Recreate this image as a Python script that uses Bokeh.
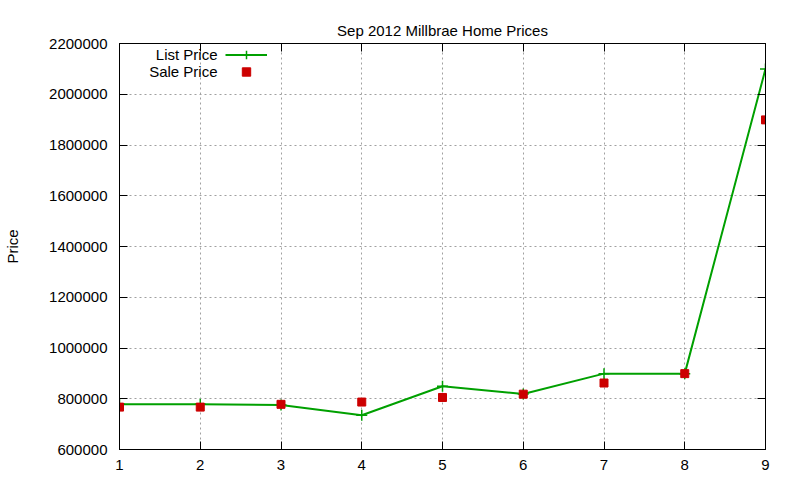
from bokeh.plotting import figure
from bokeh.models import (Range1d, FixedTicker, BasicTickFormatter, LinearAxis,
                          Legend, LegendItem, Label)
from bokeh.embed import file_html
from bokeh.resources import INLINE

# data
homes = [1, 2, 3, 4, 5, 6, 7, 8, 9]
list_price = [778000, 778000, 775000, 735000, 849000, 819000, 899000, 899000, 2100000]
sale_price = [767000, 767000, 778000, 787000, 805000, 818000, 862000, 899000, 1899000]
x_ticks = [1, 2, 3, 4, 5, 6, 7, 8, 9]
y_ticks = [600000, 800000, 1000000, 1200000, 1400000, 1600000, 1800000, 2000000, 2200000]

FONT = "Liberation Sans"
GREEN = "#00a000"
RED = "#cc0000"

p = figure(width=784, height=476, output_backend="svg", toolbar_location=None,
           x_range=Range1d(1, 9), y_range=Range1d(600000, 2200000),
           min_border_left=119, min_border_right=19, min_border_top=43,
           min_border_bottom=27, title="Sep 2012 Millbrae Home Prices")

p.title.text_font = FONT
p.title.text_font_size = "15px"
p.title.text_font_style = "normal"
p.title.text_color = "black"
p.title.align = "center"
p.outline_line_color = "black"


def style_axis(ax, ticks, show_labels=True):
    ax.ticker = FixedTicker(ticks=ticks)
    ax.major_tick_in = 8
    ax.major_tick_out = 0
    ax.minor_tick_line_color = None
    ax.axis_line_color = "black"
    ax.major_tick_line_color = "black"
    ax.major_label_text_font = FONT
    ax.major_label_text_color = "black"
    ax.major_label_text_font_size = "15px"
    if not show_labels:
        ax.major_label_overrides = {t: "" for t in ticks}
        ax.major_label_standoff = 0


style_axis(p.xaxis[0], x_ticks)
p.xaxis[0].major_label_standoff = 10
style_axis(p.yaxis[0], y_ticks)
p.yaxis[0].formatter = BasicTickFormatter(use_scientific=False)
p.yaxis[0].major_label_standoff = 12
p.yaxis[0].axis_label = "Price"
p.yaxis[0].axis_label_text_font = FONT
p.yaxis[0].axis_label_text_font_size = "15px"
p.yaxis[0].axis_label_text_font_style = "normal"
p.yaxis[0].axis_label_text_color = "black"
p.yaxis[0].axis_label_standoff = 25

# mirrored ticks on the top and right edges, like gnuplot
top_axis = LinearAxis()
style_axis(top_axis, x_ticks, show_labels=False)
top_axis.major_label_standoff = 12  # leaves room so the title sits higher
p.add_layout(top_axis, "above")
right_axis = LinearAxis()
style_axis(right_axis, y_ticks, show_labels=False)
p.add_layout(right_axis, "right")

for grid, ticks in ((p.xgrid[0], x_ticks), (p.ygrid[0], y_ticks)):
    grid.ticker = FixedTicker(ticks=ticks)
    grid.grid_line_color = "#a0a0a0"
    grid.grid_line_dash = "2 3"
    grid.grid_line_width = 1

list_line = p.line(homes, list_price, line_color=GREEN, line_width=2)
list_pts = p.scatter(homes, list_price, marker="cross", size=11,
                     line_color=GREEN, line_width=1.5)
sale_pts = p.scatter(homes, sale_price, marker="square", size=8,
                     fill_color=RED, line_color=RED)

# gnuplot style key: text on the left, sample on the right
def key(renderers, y):
    leg = Legend(items=[LegendItem(label=" ", renderers=renderers)],
                 location=(106, y), glyph_width=42, glyph_height=21,
                 label_height=21, label_width=1, label_standoff=0,
                 padding=0, margin=0, spacing=0,
                 background_fill_alpha=0, border_line_color=None,
                 label_text_font_size="1px")
    p.add_layout(leg)


key([list_line, list_pts], 384)
key([sale_pts], 367)

for text, y in (("List Price", 395), ("Sale Price", 378)):
    p.add_layout(Label(x=98, y=y, x_units="screen", y_units="screen", text=text,
                       text_align="right", text_baseline="middle",
                       text_font=FONT, text_font_size="15px", text_color="black"))

open("out.html", "w").write(file_html(p, INLINE))
